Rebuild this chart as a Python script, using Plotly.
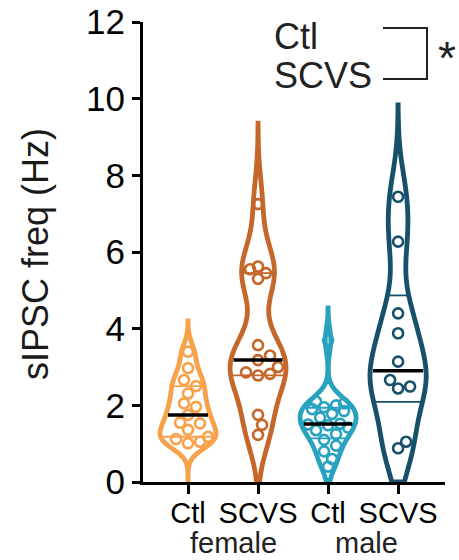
import numpy as np
import plotly.graph_objects as go

# ---- data ----
categories = ["Ctl", "SCVS", "Ctl", "SCVS"]
sex_labels = ["female", "male"]
ctl_female = [1.01, 1.05, 1.12, 1.18, 1.36, 1.53, 1.55, 1.75, 1.96, 2.05, 2.31, 2.50, 2.66, 2.97, 3.40]
scvs_female = [1.23, 1.49, 1.75, 2.78, 2.82, 2.86, 3.00, 3.18, 3.30, 3.57, 5.30, 5.45, 5.55, 5.62, 7.25]
ctl_male = [0.40, 0.60, 0.80, 0.95, 1.10, 1.25, 1.35, 1.42, 1.48, 1.50, 1.52, 1.68, 1.78, 1.85, 1.90,
            1.95, 2.00, 2.05, 2.10, 3.70]
scvs_male = [0.88, 1.05, 2.44, 2.49, 2.66, 3.14, 3.88, 4.40, 6.27, 7.44]
groups = [ctl_female, scvs_female, ctl_male, scvs_male]
violin_top = [4.2, 9.36, 4.54, 9.84]          # upper tip of each violin (Hz)
bandwidths = [0.26, 0.70, 0.30, 0.80]
y_ticks = [0, 2, 4, 6, 8, 10, 12]

colors = ["#F7A14A", "#C5662B", "#29A2C0", "#17506B"]
FONT = "Liberation Sans, Arial, sans-serif"
VW = 0.80  # violin full width in category units

L, R, T, B = 143, 14, 22, 78
PW, PH = 459 - L - R, 560 - T - B
XR = [-0.643, 3.67]
YR = [0, 12]
PX_PER_X = PW / (XR[1] - XR[0])
PX_PER_Y = PH / (YR[1] - YR[0])


def px(xp):
    return (xp - L) / PW


def py(yp):
    return (560 - B - yp) / PH


def kde(vals, bw, grid):
    v = np.asarray(vals)[None, :]
    return np.exp(-0.5 * ((np.asarray(grid)[:, None] - v) / bw) ** 2).sum(axis=1)


def swarm(vals, halfw_fn, diam=10.5, step=4.0):
    """simple beeswarm: horizontal pixel offsets avoiding overlap"""
    placed = []
    offs = np.zeros(len(vals))
    order = np.argsort(vals)
    for idx in order:
        yv = vals[idx] * PX_PER_Y
        lim = max(halfw_fn(vals[idx]) * PX_PER_X - 5, 0)
        cands = [0.0]
        k = 1
        while k * step <= max(lim, step) + 1e-9:
            cands += [k * step, -k * step]
            k += 1
        best = None
        for c in cands:
            if all((c - ox) ** 2 + (yv - oy) ** 2 >= diam ** 2 for ox, oy in placed):
                best = c
                break
        if best is None:
            best = min(cands, key=lambda c: -min(((c - ox) ** 2 + (yv - oy) ** 2) for ox, oy in placed))
        placed.append((best, yv))
        offs[idx] = best / PX_PER_X
    return offs


fig = go.Figure()
extra = []
for i, (vals, bw, top, c) in enumerate(zip(groups, bandwidths, violin_top, colors)):
    vals = np.asarray(vals, dtype=float)
    fig.add_trace(go.Violin(
        x=[i] * len(vals), y=vals, name=categories[i],
        bandwidth=bw, spanmode="manual", span=[0, top],
        scalemode="width", width=VW, side="both",
        line=dict(color=c, width=4.8), fillcolor="rgba(255,255,255,0)",
        points=False, box_visible=False, meanline_visible=False,
        showlegend=False, hoverinfo="y",
    ))
    grid = np.linspace(0, top, 2000)
    kmax = kde(vals, bw, grid).max()

    def halfw(y, vals=vals, bw=bw, kmax=kmax):
        return VW / 2 * kde(vals, bw, [y])[0] / kmax

    med = float(np.median(vals))
    q1, q3 = np.percentile(vals, [25, 75], method="weibull")
    offs = swarm(vals, halfw)
    extra.append((i, vals, offs, med, q1, q3, halfw, c))

for i, vals, offs, med, q1, q3, halfw, c in extra:
    for q in (q1, q3):
        hw = halfw(q)
        fig.add_trace(go.Scatter(x=[i - hw, i + hw], y=[q, q], mode="lines",
                                 line=dict(color=c, width=1.8), showlegend=False, hoverinfo="skip"))
for i, vals, offs, med, q1, q3, halfw, c in extra:
    fig.add_trace(go.Scatter(x=i + offs, y=vals, mode="markers", showlegend=False,
                             marker=dict(symbol="circle-open", size=10, color=c,
                                         line=dict(width=2.6, color=c))))
for i, vals, offs, med, q1, q3, halfw, c in extra:
    hw = halfw(med) * 0.9
    fig.add_trace(go.Scatter(x=[i - hw, i + hw], y=[med, med], mode="lines",
                             line=dict(color="black", width=3.5), showlegend=False, hoverinfo="skip"))

fig.update_layout(
    width=459, height=560, autosize=False,
    margin=dict(l=L, r=R, t=T, b=B, pad=0),
    paper_bgcolor="white", plot_bgcolor="white",
    font=dict(family=FONT, color="black"),
    xaxis=dict(range=XR, tickmode="array", tickvals=[0, 1, 2, 3], ticktext=categories,
               showline=True, linecolor="black", linewidth=3, ticks="outside", ticklen=9,
               tickwidth=3, tickcolor="black", showgrid=False, zeroline=False, automargin=False,
               ticklabelstandoff=-6,
               tickfont=dict(size=29, family=FONT, color="black")),
    yaxis=dict(range=YR, tickmode="array", tickvals=y_ticks,
               showline=True, linecolor="black", linewidth=3, ticks="outside", ticklen=8,
               tickwidth=3, tickcolor="black", showgrid=False, zeroline=False, automargin=False,
               tickfont=dict(size=35, family=FONT, color="black")),
)

# axis title
fig.add_annotation(text="sIPSC freq (Hz)", textangle=-90, xref="paper", yref="paper",
                   x=px(35), y=py(254), xanchor="center", yanchor="middle", showarrow=False,
                   font=dict(size=36, family=FONT, color="#1a1a1a"))
# sex labels
for xl, lab in zip([0.65, 2.55], sex_labels):
    fig.add_annotation(text=lab, xref="x", yref="paper", x=xl, y=py(543),
                       xanchor="center", yanchor="middle", showarrow=False,
                       font=dict(size=29, family=FONT, color="#222"))
# significance legend
fig.add_annotation(text="Ctl", xref="paper", yref="paper", x=px(272), y=py(36),
                   xanchor="left", yanchor="middle", showarrow=False,
                   font=dict(size=36, family=FONT, color="#222"))
fig.add_annotation(text="SCVS", xref="paper", yref="paper", x=px(272), y=py(75),
                   xanchor="left", yanchor="middle", showarrow=False,
                   font=dict(size=36, family=FONT, color="#222"))
fig.add_annotation(text="*", xref="paper", yref="paper", x=px(447), y=py(58),
                   xanchor="center", yanchor="middle", showarrow=False,
                   font=dict(size=46, family=FONT, color="#222"))
fig.add_shape(type="path", xref="paper", yref="paper",
              path=f"M {px(383)} {py(28)} L {px(427)} {py(28)} L {px(427)} {py(79)} L {px(383)} {py(79)}",
              line=dict(color="#222", width=2))

fig.write_html("out.html")
